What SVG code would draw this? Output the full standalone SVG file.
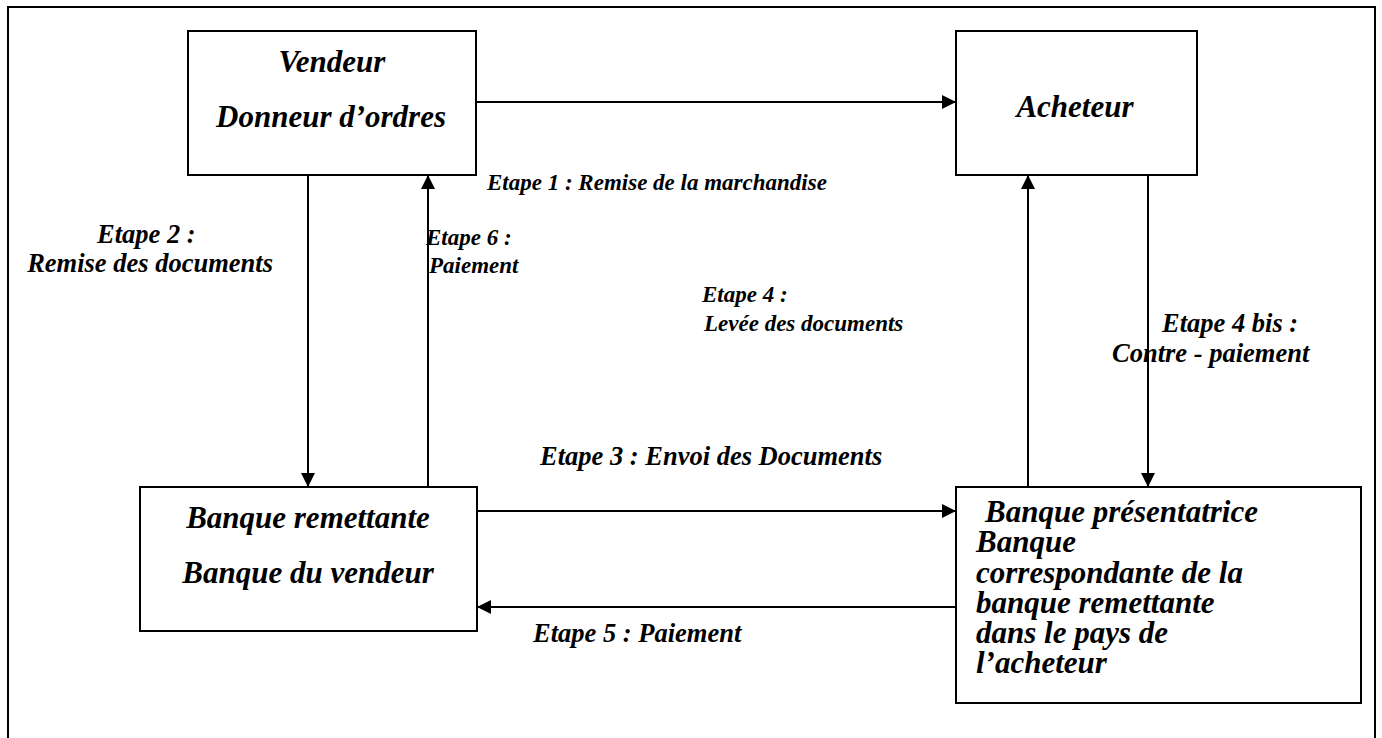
<svg xmlns="http://www.w3.org/2000/svg" width="1382" height="738" viewBox="0 0 1382 738">
<style>
.box{fill:#fff;stroke:#000;stroke-width:2}
.ln{fill:none;stroke:#000;stroke-width:2}
.t{font-family:"Liberation Serif","Times New Roman",serif;font-weight:bold;font-style:italic;fill:#000}
.big{font-size:31px}
.lbl{font-size:23px}
.lbl2{font-size:26.5px}
</style>
<defs>
<marker id="ah" markerWidth="14" markerHeight="14" viewBox="0 0 14 14" refX="14" refY="7" orient="auto" markerUnits="userSpaceOnUse">
<path d="M0,0 L14,7 L0,14 Z" fill="#000"/>
</marker>
</defs>
<rect x="8" y="7" width="1367" height="760" fill="none" stroke="#000" stroke-width="2"/>
<g id="vendeur">
<rect class="box" x="188" y="31" width="288" height="144"/>
<text class="t big" x="332" y="72" text-anchor="middle">Vendeur</text>
<text class="t big" x="331" y="127" text-anchor="middle">Donneur d’ordres</text>
</g>
<g id="acheteur">
<rect class="box" x="956" y="31" width="241" height="144"/>
<text class="t big" x="1075" y="117" text-anchor="middle">Acheteur</text>
</g>
<g id="banque-remettante">
<rect class="box" x="140" y="487" width="337" height="144"/>
<text class="t big" x="308" y="528" text-anchor="middle">Banque remettante</text>
<text class="t big" x="308" y="583" text-anchor="middle">Banque du vendeur</text>
</g>
<g id="banque-presentatrice">
<rect class="box" x="956" y="487" width="405" height="216"/>
<text class="t big" x="985" y="522">Banque présentatrice</text>
<text class="t big" x="976" y="552">Banque</text>
<text class="t big" x="976" y="583">correspondante de la</text>
<text class="t big" x="976" y="613">banque remettante</text>
<text class="t big" x="976" y="643">dans le pays de</text>
<text class="t big" x="976" y="673">l’acheteur</text>
</g>
<g id="connectors">
<line class="ln" x1="476" y1="102" x2="956" y2="102" marker-end="url(#ah)"/>
<line class="ln" x1="308" y1="175" x2="308" y2="487" marker-end="url(#ah)"/>
<line class="ln" x1="428" y1="487" x2="428" y2="175" marker-end="url(#ah)"/>
<line class="ln" x1="1028" y1="487" x2="1028" y2="175" marker-end="url(#ah)"/>
<line class="ln" x1="1148" y1="175" x2="1148" y2="487" marker-end="url(#ah)"/>
<line class="ln" x1="477" y1="511" x2="956" y2="511" marker-end="url(#ah)"/>
<line class="ln" x1="956" y1="607" x2="477" y2="607" marker-end="url(#ah)"/>
</g>
<g id="labels">
<text class="t lbl" x="487" y="190">Etape 1 : Remise de la marchandise</text>
<text class="t lbl2" x="97" y="243">Etape 2 :</text>
<text class="t lbl2" x="273" y="272" text-anchor="end">Remise des documents</text>
<text class="t lbl" x="426" y="245">Etape 6 :</text>
<text class="t lbl" x="429" y="273">Paiement</text>
<text class="t lbl" x="702" y="302">Etape 4 :</text>
<text class="t lbl" x="704" y="331">Levée des documents</text>
<text class="t lbl2" x="1162" y="332">Etape 4 bis :</text>
<text class="t lbl2" x="1112" y="362">Contre - paiement</text>
<text class="t lbl2" x="540" y="465">Etape 3 : Envoi des Documents</text>
<text class="t lbl2" x="533" y="642">Etape 5 : Paiement</text>
</g>
</svg>
